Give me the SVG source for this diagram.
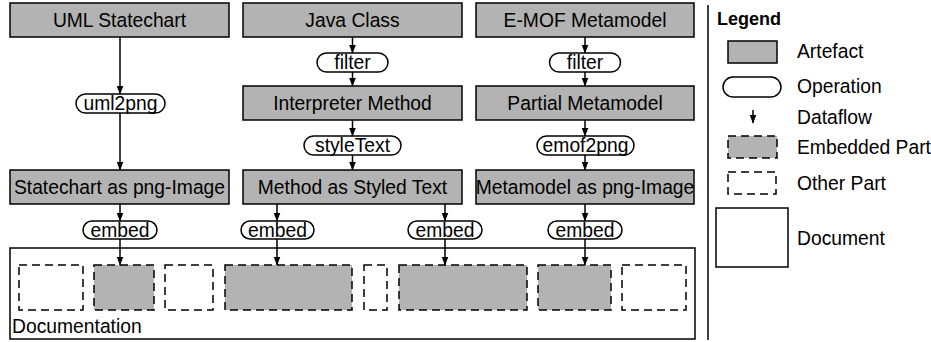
<svg xmlns="http://www.w3.org/2000/svg" width="931" height="342" viewBox="0 0 931 342">
<defs>
<marker id="ah" markerWidth="9" markerHeight="7" refX="8.5" refY="3.5" orient="auto" markerUnits="userSpaceOnUse" viewBox="0 0 9 7"><path d="M0,0 L9,3.5 L0,7 Z" fill="#000"/></marker>
</defs>
<style>
text{font-family:"Liberation Sans",Arial,sans-serif;font-size:19.3px;fill:#000}
.art{fill:#b3b3b3;stroke:#000;stroke-width:1.5}
.op{fill:#fff;stroke:#000;stroke-width:1.5}
.emb{fill:#b3b3b3;stroke:#000;stroke-width:1.5;stroke-dasharray:8 5}
.oth{fill:#fff;stroke:#000;stroke-width:1.5;stroke-dasharray:8 5}
.doc{fill:#fff;stroke:#000;stroke-width:1.5}
.c{text-anchor:middle}
.e{stroke:#000;stroke-width:1.5;fill:none;marker-end:url(#ah)}
</style>
<rect width="931" height="342" fill="#fff"/>

<g id="documentation">
<rect class="doc" x="10" y="248" width="685" height="91"/>
<text x="12" y="333">Documentation</text>
<rect class="oth" x="19" y="265" width="64" height="45"/>
<rect class="emb" x="94" y="265" width="60" height="45"/>
<rect class="oth" x="165" y="265" width="48" height="45"/>
<rect class="emb" x="225" y="265" width="127" height="45"/>
<rect class="oth" x="364" y="265" width="23" height="45"/>
<rect class="emb" x="399" y="265" width="128" height="45"/>
<rect class="emb" x="538" y="265" width="73" height="45"/>
<rect class="oth" x="622" y="265" width="64" height="45"/>
</g>

<g id="uml-statechart"><rect class="art" x="10" y="3" width="219" height="34"/><text class="c" x="119.5" y="27">UML Statechart</text></g>
<g id="java-class"><rect class="art" x="243" y="3" width="219" height="34"/><text class="c" x="352.5" y="27">Java Class</text></g>
<g id="emof-metamodel"><rect class="art" x="476" y="3" width="218" height="34"/><text class="c" x="585" y="27">E-MOF Metamodel</text></g>

<g id="interpreter-method"><rect class="art" x="243" y="86" width="219" height="34"/><text class="c" x="352.5" y="110">Interpreter Method</text></g>
<g id="partial-metamodel"><rect class="art" x="476" y="86" width="218" height="34"/><text class="c" x="585" y="110">Partial Metamodel</text></g>

<g id="statechart-png"><rect class="art" x="10" y="170" width="219" height="34"/><text class="c" x="119.5" y="194">Statechart as png-Image</text></g>
<g id="method-styled"><rect class="art" x="243" y="170" width="219" height="34"/><text class="c" x="352.5" y="194">Method as Styled Text</text></g>
<g id="metamodel-png"><rect class="art" x="476" y="170" width="218" height="34"/><text class="c" x="585" y="194">Metamodel as png-Image</text></g>

<g id="op-filter1"><rect class="op" x="317" y="53" width="71" height="19" rx="9.5"/><text class="c" x="352.5" y="69">filter</text></g>
<g id="op-filter2"><rect class="op" x="549.5" y="53" width="71" height="19" rx="9.5"/><text class="c" x="585" y="69">filter</text></g>
<g id="op-uml2png"><rect class="op" x="76" y="94" width="89" height="19" rx="9.5"/><text class="c" x="120.5" y="110">uml2png</text></g>
<g id="op-styletext"><rect class="op" x="304" y="136" width="97" height="19" rx="9.5"/><text class="c" x="352.5" y="152">styleText</text></g>
<g id="op-emof2png"><rect class="op" x="537" y="136" width="97" height="19" rx="9.5"/><text class="c" x="585.5" y="152">emof2png</text></g>
<g id="op-embed1"><rect class="op" x="83" y="221" width="74" height="18" rx="9"/><text class="c" x="120" y="237">embed</text></g>
<g id="op-embed2"><rect class="op" x="241" y="221" width="73" height="18" rx="9"/><text class="c" x="277.5" y="237">embed</text></g>
<g id="op-embed3"><rect class="op" x="408" y="221" width="74" height="18" rx="9"/><text class="c" x="445" y="237">embed</text></g>
<g id="op-embed4"><rect class="op" x="548" y="221" width="74" height="18" rx="9"/><text class="c" x="585" y="237">embed</text></g>

<g id="connectors">
<line class="e" x1="120" y1="37" x2="120" y2="94"/>
<line class="e" x1="120" y1="113" x2="120" y2="170"/>
<line class="e" x1="352.5" y1="37" x2="352.5" y2="53"/>
<line class="e" x1="352.5" y1="72" x2="352.5" y2="86"/>
<line class="e" x1="352.5" y1="120" x2="352.5" y2="136"/>
<line class="e" x1="352.5" y1="155" x2="352.5" y2="170"/>
<line class="e" x1="585" y1="37" x2="585" y2="53"/>
<line class="e" x1="585" y1="72" x2="585" y2="86"/>
<line class="e" x1="585" y1="120" x2="585" y2="136"/>
<line class="e" x1="585" y1="155" x2="585" y2="170"/>
<line class="e" x1="120" y1="204" x2="120" y2="221"/>
<line class="e" x1="277" y1="204" x2="277" y2="221"/>
<line class="e" x1="445" y1="204" x2="445" y2="221"/>
<line class="e" x1="585" y1="204" x2="585" y2="221"/>
<line class="e" x1="120" y1="239" x2="120" y2="265"/>
<line class="e" x1="277" y1="239" x2="277" y2="265"/>
<line class="e" x1="445" y1="239" x2="445" y2="265"/>
<line class="e" x1="585" y1="239" x2="585" y2="265"/>
</g>

<g id="legend">
<line x1="708" y1="5" x2="708" y2="340" stroke="#000" stroke-width="1.5"/>
<text x="717" y="25" style="font-weight:bold;font-size:18px">Legend</text>
<rect class="art" x="728" y="41" width="49" height="22"/>
<text x="797" y="58">Artefact</text>
<rect class="op" x="723" y="77" width="58" height="20" rx="10"/>
<text x="797" y="93">Operation</text>
<line class="e" x1="753" y1="110" x2="753" y2="123"/>
<text x="797" y="124">Dataflow</text>
<rect class="emb" x="728" y="136" width="49" height="22"/>
<text x="797" y="154">Embedded Part</text>
<rect class="oth" x="728" y="172" width="48" height="22"/>
<text x="797" y="190">Other Part</text>
<rect class="doc" x="716" y="208" width="72" height="59"/>
<text x="797" y="245">Document</text>
</g>
</svg>
